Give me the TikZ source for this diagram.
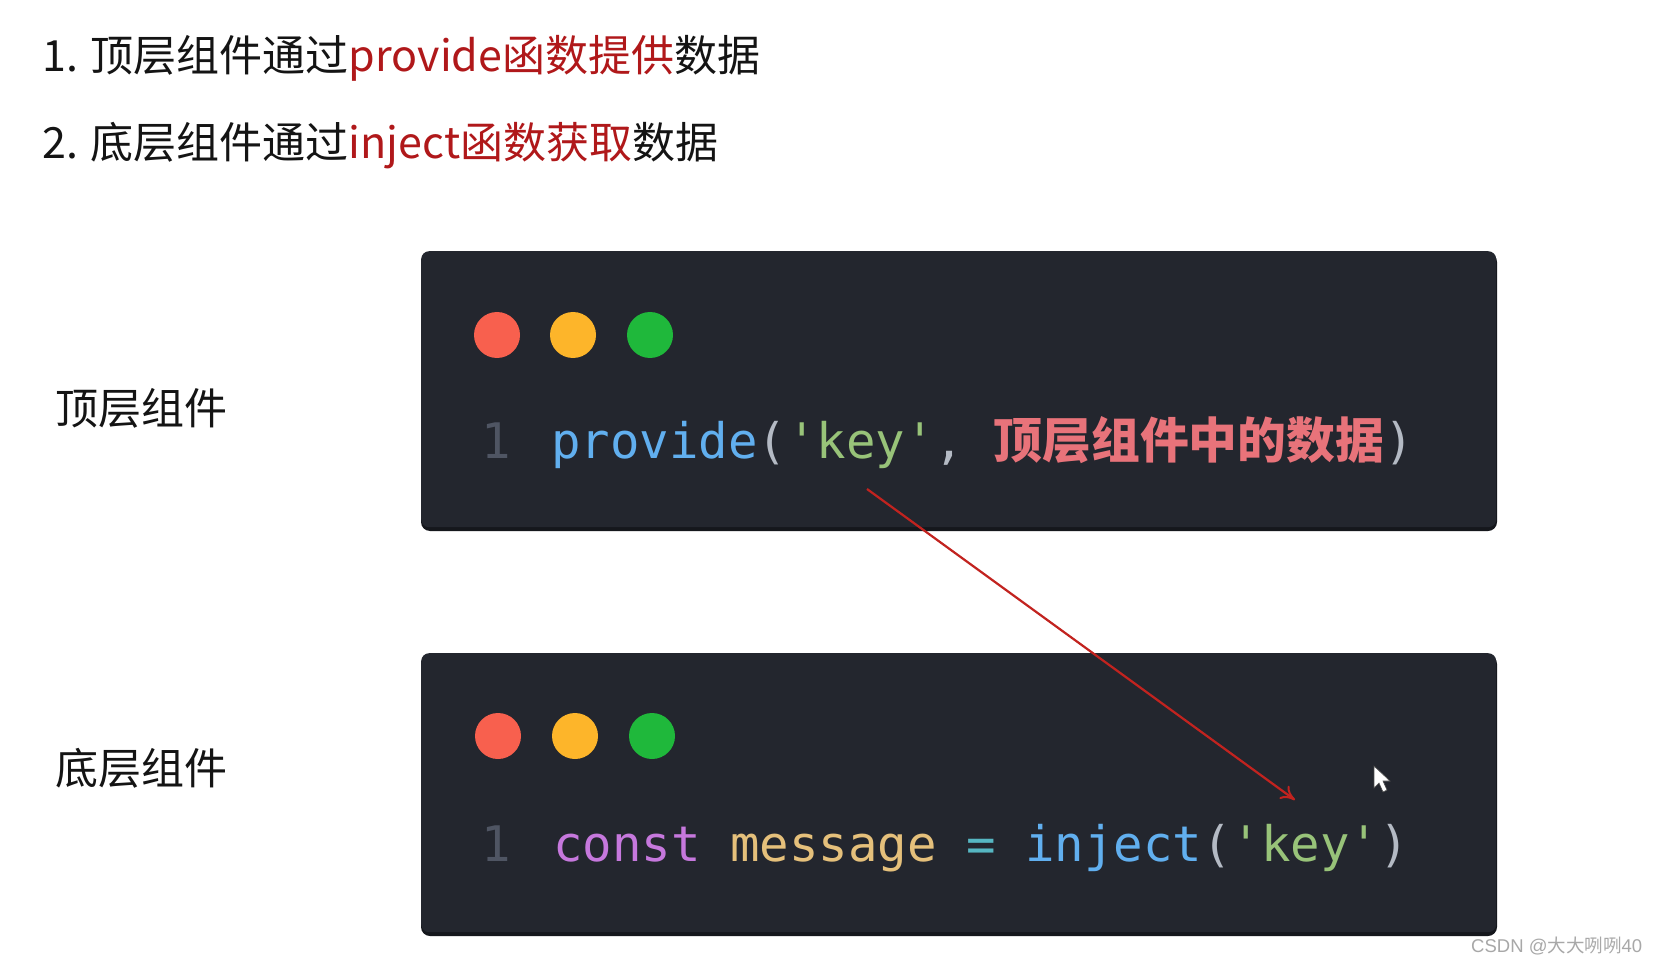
\documentclass[tikz,border=0pt]{standalone}
\usepackage{fontspec}
\setmainfont{Noto Sans CJK SC}
\newfontfamily\cjk{Noto Sans CJK SC}
\newfontfamily\mono{DejaVu Sans Mono}
\newfontfamily\wmfont{Liberation Sans}
\usetikzlibrary{arrows.meta}
\definecolor{boxbg}{HTML}{23262E}
\definecolor{boxshadow}{HTML}{15171C}
\definecolor{titlered}{HTML}{B0181A}
\definecolor{titleblack}{HTML}{141414}
\definecolor{dotred}{HTML}{F8604E}
\definecolor{dotyellow}{HTML}{FDB52A}
\definecolor{dotgreen}{HTML}{1FB83B}
\definecolor{lnum}{HTML}{4F5563}
\definecolor{cblue}{HTML}{61AFEF}
\definecolor{cpunc}{HTML}{B4BAC4}
\definecolor{cgreen}{HTML}{98C379}
\definecolor{cred}{HTML}{E8737A}
\definecolor{cpurple}{HTML}{C678DD}
\definecolor{cyellow}{HTML}{E5C07B}
\definecolor{ccyan}{HTML}{56B6C2}
\definecolor{arrowred}{HTML}{C2231F}
\definecolor{wmgray}{HTML}{A8A8A8}
\begin{document}
\begin{tikzpicture}[x=1pt,y=-1pt,
  txt/.style={inner sep=0pt,anchor=base west},
  title/.style={txt,font=\cjk\fontsize{43}{50}\selectfont,text=titleblack},
  codebox/.style={fill=boxbg,rounded corners=8pt},
  shadowbox/.style={fill=boxshadow,rounded corners=9pt},
  dot/.style={circle,inner sep=0pt,minimum size=46pt},
  code/.style={txt,font=\mono\fontsize{49}{56}\selectfont},
  lnumstyle/.style={code,text=lnum},
  link/.style={draw=arrowred,line width=2.2pt,-{To[length=14pt,width=16pt,line width=2pt]}}
]
\useasboundingbox[fill=white] (0,0) rectangle (1662,965);

% titles
\node[title] (t1) at (42,72) {1. 顶层组件通过\textcolor{titlered}{provide函数提供}数据};
\node[title] (t2) at (42,159) {2. 底层组件通过\textcolor{titlered}{inject函数获取}数据};

% side labels
\node[title] (l1) at (55,424) {顶层组件};
\node[title] (l2) at (55,784) {底层组件};

% boxes
\fill[shadowbox] (421,253) rectangle (1497,531);
\node[codebox,minimum width=1075pt,minimum height=276pt,anchor=north west,inner sep=0pt] (box1) at (421,251) {};
\fill[shadowbox] (421,655) rectangle (1497,936);
\node[codebox,minimum width=1075pt,minimum height=279pt,anchor=north west,inner sep=0pt] (box2) at (421,653) {};

% window dots
\node[dot,fill=dotred] (r1) at (497,335) {};
\node[dot,fill=dotyellow] (y1) at (573,335) {};
\node[dot,fill=dotgreen] (g1) at (650,335) {};
\node[dot,fill=dotred] (r2) at (498,736) {};
\node[dot,fill=dotyellow] (y2) at (575,736) {};
\node[dot,fill=dotgreen] (g2) at (652,736) {};

% code line 1
\node[lnumstyle] (n1) at (481,458) {1};
\node[code] (c1) at (551,458) {\textcolor{cblue}{provide}\textcolor{cpunc}{(}\textcolor{cgreen}{'key'}\textcolor{cpunc}{, }\textcolor{cred}{\cjk\bfseries\fontsize{48.8}{56}\selectfont 顶层组件中的数据}\textcolor{cpunc}{)}};

% code line 2
\node[lnumstyle] (n2) at (481,861) {1};
\node[code] (c2) at (553,861) {\textcolor{cpurple}{const} \textcolor{cyellow}{message} \textcolor{ccyan}{=} \textcolor{cblue}{inject}\textcolor{cpunc}{(}\textcolor{cgreen}{'key'}\textcolor{cpunc}{)}};

% arrow
\coordinate (a1) at (867,489);
\coordinate (a2) at (1295,800);
\draw[link] (a1) -- (a2);

% mouse cursor
\fill[white,draw=black!70,line width=0.6pt] (1374,766) -- (1374,788) -- (1379,783) -- (1383,792) -- (1387,790) -- (1383,781) -- (1390,781) -- cycle;

% watermark
\node[txt,text=wmgray,font=\wmfont\fontsize{18.5}{22}\selectfont] (wm) at (1471,952) {CSDN @{\cjk 大大咧咧}40};
\end{tikzpicture}
\end{document}
